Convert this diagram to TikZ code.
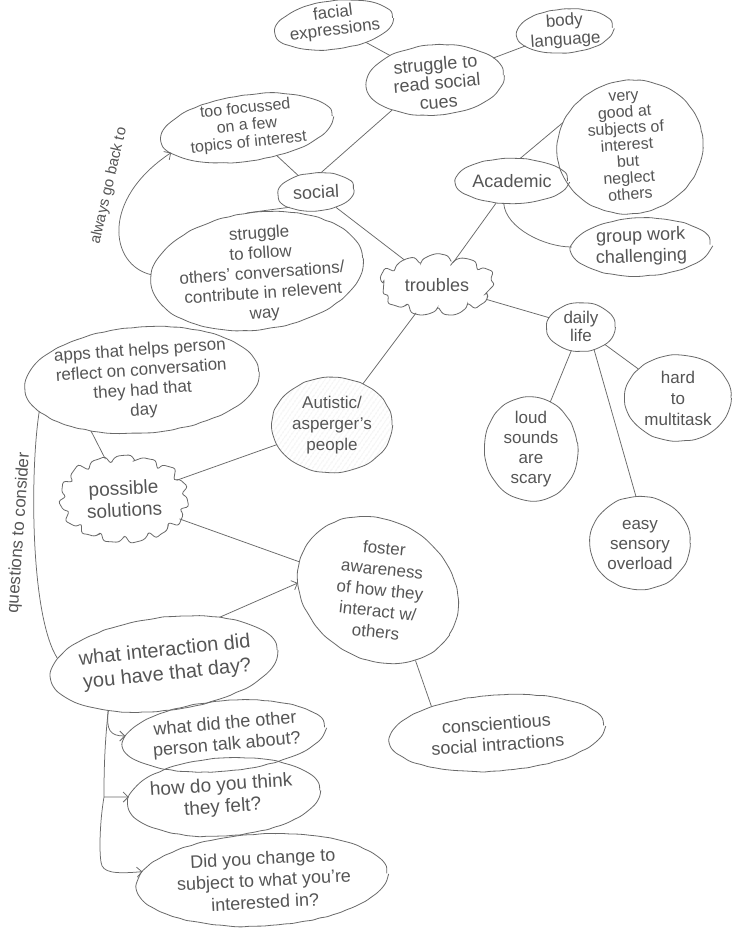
\documentclass[tikz,border=0pt]{standalone}
\usepackage{fontspec}
\setmainfont{Liberation Sans}
\usetikzlibrary{shapes.geometric,shapes.symbols,arrows.meta,patterns.meta,decorations.pathmorphing}
\definecolor{pencil}{RGB}{85,85,85}
\definecolor{lead}{RGB}{105,105,105}
\newcommand{\hand}[2]{\fontsize{#1}{#2}\selectfont}

\begin{document}
\begin{tikzpicture}[x=1pt,y=-1pt,
  sketch/.style={draw=lead, line width=0.8pt, decorate,
    decoration={random steps,segment length=7pt,amplitude=0.5pt}, rounded corners=2.5pt},
  bubble/.style={sketch, ellipse, inner sep=0pt},
  puff/.style={sketch, cloud, inner sep=0pt, cloud puff arc=115},
  words/.style={text=pencil, align=center, inner sep=0pt, font=\hand{18}{21}},
  conn/.style={draw=lead, line width=0.75pt},
  arrowconn/.style={conn, -{Straight Barb[length=5pt,width=10pt]}},
]
\pgfmathsetseed{4321}
% page
\fill[white] (0,0) rectangle (733,951);
\useasboundingbox (0,0) rectangle (733,951);

% ---- outlines ----
\node[bubble, minimum width=118, minimum height=48, rotate=7] (fe) at (334,25) {};
\node[bubble, minimum width=95, minimum height=44, rotate=4] (bl) at (565,31) {};
\node[bubble, minimum width=137, minimum height=70, rotate=4] (sr) at (435,80) {};
\node[bubble, minimum width=172, minimum height=66, rotate=8] (tf) at (247,128) {};
\node[bubble, minimum width=75, minimum height=38, rotate=4] (so) at (316,192) {};
\node[bubble, minimum width=213, minimum height=117, rotate=7] (sf) at (257,271) {};
\node[bubble, minimum width=111, minimum height=45] (ac) at (512,181) {};
\node[bubble, minimum width=146, minimum height=133, rotate=12] (vg) at (630,147) {};
\node[bubble, minimum width=138, minimum height=58, rotate=2] (gw) at (641,247) {};
\node[puff, cloud puffs=11, minimum width=113, minimum height=60] (tr) at (437,285) {};
\node[bubble, minimum width=68, minimum height=48] (dl) at (581,327) {};
\node[bubble, minimum width=106, minimum height=86] (hm) at (678,398) {};
\node[bubble, minimum width=93, minimum height=104, rotate=8] (ls) at (531,449) {};
\node[bubble, minimum width=100, minimum height=93] (es) at (640,543) {};
\node[bubble, minimum width=120, minimum height=95,
      pattern={Lines[angle=55,distance=4pt,line width=0.35pt]}, pattern color=lead!45] (au) at (332,425) {};
\node[bubble, minimum width=234, minimum height=106, rotate=4] (ap) at (142,380) {};
\node[puff, cloud puffs=15, minimum width=124, minimum height=86] (ps) at (124,499) {};
\node[bubble, minimum width=168, minimum height=138, rotate=-32] (fo) at (378,590) {};
\node[bubble, minimum width=214, minimum height=76, rotate=4] (cs) at (497,733) {};
\node[bubble, minimum width=228, minimum height=93, rotate=7] (wi) at (164,664) {};
\node[bubble, minimum width=202, minimum height=70, rotate=5] (q1) at (224,736) {};
\node[bubble, minimum width=192, minimum height=78, rotate=4] (q2) at (224,797) {};
\node[bubble, minimum width=250, minimum height=92, rotate=3] (q3) at (262,880) {};

% ---- texts ----
\node[words, font=\hand{17}{17}, rotate=7] (fe-t) at (334,22) {facial\\expressions};
\node[words, font=\hand{17}{19}, rotate=4] (bl-t) at (565,31) {body\\language};
\node[words, font=\hand{18}{19}, rotate=5] (sr-t) at (437,83) {struggle to\\read social\\cues};
\node[words, font=\hand{16}{17}, rotate=6] (tf-t) at (247,126) {too focussed\\on a few\\topics of interest};
\node[words, rotate=3] (so-t) at (316,192) {social};
\node[words, font=\hand{17}{20}, rotate=4] (sf-t) at (262,274) {struggle\\to follow\\others' conversations/\\contribute in relevent\\way};
\node[words] (ac-t) at (512,181) {Academic};
\node[words, font=\hand{16}{16.5}, rotate=4] (vg-t) at (627,146) {very\\good at\\subjects of\\interest\\but\\neglect\\others};
\node[words, rotate=2] (gw-t) at (641,247) {group work\\challenging};
\node[words] (tr-t) at (437,285) {troubles};
\node[words, font=\hand{17}{18}] (dl-t) at (581,326) {daily\\life};
\node[words, font=\hand{17}{21}] (hm-t) at (678,398) {hard\\to\\multitask};
\node[words, font=\hand{17}{20}] (ls-t) at (531,449) {loud\\sounds\\are\\scary};
\node[words, font=\hand{17}{20}] (es-t) at (640,545) {easy\\sensory\\overload};
\node[words, font=\hand{17}{21}] (au-t) at (332,425) {Autistic/\\asperger's\\people};
\node[words, font=\hand{17}{20}, rotate=4] (ap-t) at (142,381) {apps that helps person\\reflect on conversation\\they had that\\day};
\node[words, font=\hand{19}{22}, rotate=3] (ps-t) at (124,499) {possible\\solutions};
\node[words, font=\hand{17}{21}, rotate=-6] (fo-t) at (380,590) {foster\\awareness\\of how they\\interact w/\\others};
\node[words, rotate=4] (cs-t) at (497,734) {conscientious\\social intractions};
\node[words, font=\hand{20}{24}, rotate=6] (wi-t) at (166,663) {what interaction did\\you have that day?};
\node[words, font=\hand{18}{21}, rotate=5] (q1-t) at (226,735) {what did the other\\person talk about?};
\node[words, font=\hand{19}{22}, rotate=4] (q2-t) at (222,797) {how do you think\\they felt?};
\node[words, font=\hand{18}{22}, rotate=3] (q3-t) at (264,880) {Did you change to\\subject to what you're\\interested in?};

% ---- connectors ----
% (angle anchors are given in each outline's own rotated frame)
\draw[conn] (fe) -- (sr);
\draw[conn] (bl) -- (sr);
\draw[conn] (so.71) -- (sr.211);
\draw[conn] (tf) -- (so);
\draw[conn] (so.206) -- (sf.93);
\draw[conn] (so) -- (tr);
\draw[conn] (tr) -- (ac);
\draw[conn] (ac.70) -- (vg.148);
\draw[conn] (ac.250) .. controls +(2,24) and +(-28,0) .. (gw.178);
\draw[conn] (tr) -- (dl);
\draw[conn] (dl) -- (hm);
\draw[conn] (dl) -- (ls);
\draw[conn] (dl.300) -- (es.95);
\draw[conn] (tr) -- (au);
\draw[conn] (au) -- (ps);
\draw[conn] (ps.115) -- (ap.221);
\draw[conn] (ps) -- (fo);
\draw[arrowconn] (wi.33) -- (fo.207);
\draw[conn] (fo.330) -- (cs.154);

% looping back to narrow interests
\draw[arrowconn] (sf.175) .. controls (110,265) and (100,200) .. (tf.190);
\node[words, font=\hand{15}{15}, rotate=77] (loop-t) at (109,186) {always go back to};

% from the app idea down to the prompting questions
\draw[conn] (ap.193) .. controls (30,470) and (30,615) .. (wi.170);
\node[words, font=\hand{17}{17}, rotate=86] (qs-t) at (19,533) {questions to consider};

% branching prompts
\coordinate (j2) at (104,797);
\coordinate (j3) at (101,862);
\draw[arrowconn] (wi.213) .. controls (106,730) and (110,736) .. (q1.175);
\draw[conn] (wi.213) .. controls (104,750) and (104,780) .. (j2) .. controls (100,820) and (99,850) .. (j3);
\draw[arrowconn] (j2) -- (q2.176);
\draw[arrowconn] (j3) .. controls (102,873) and (115,874) .. (q3.173);
\end{tikzpicture}
\end{document}
